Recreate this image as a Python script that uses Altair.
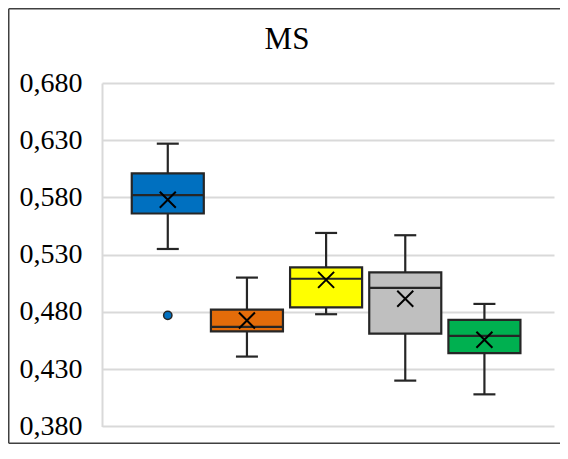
import altair as alt
import pandas as pd

# ---- data ----
title_text = "MS"
series = ["S1", "S2", "S3", "S4", "S5"]
colors = ["#0070C0", "#E46C0A", "#FFFF00", "#BFBFBF", "#00B050"]
whisker_low = [0.535, 0.441, 0.478, 0.420, 0.408]
q1 = [0.566, 0.463, 0.484, 0.461, 0.444]
median = [0.582, 0.467, 0.509, 0.501, 0.459]
q3 = [0.601, 0.482, 0.519, 0.5145, 0.473]
whisker_high = [0.627, 0.510, 0.549, 0.547, 0.487]
mean = [0.578, 0.4725, 0.508, 0.4915, 0.4557]
outlier_series = ["S1"]
outlier_values = [0.477]
y_ticks = [0.38, 0.43, 0.48, 0.53, 0.58, 0.63, 0.68]

df = pd.DataFrame({
    "series": series, "wlo": whisker_low, "q1": q1, "med": median,
    "q3": q3, "whi": whisker_high, "mean": mean,
})
out_df = pd.DataFrame({"series": outlier_series, "value": outlier_values})
title_df = pd.DataFrame({"t": [title_text]})

EDGE = "#262626"
x_enc = alt.X("series:N", sort=series,
              scale=alt.Scale(paddingInner=0.09, paddingOuter=0.4, align=0.47),
              axis=None)
y_scale = alt.Scale(domain=[0.38, 0.68], nice=False, zero=False)
color_scale = alt.Scale(domain=series, range=colors)

base = alt.Chart(df).encode(x=x_enc)

whisker = base.mark_rule(color=EDGE, strokeWidth=2.2, opacity=1).encode(
    y=alt.Y("wlo:Q", scale=y_scale,
            axis=alt.Axis(values=y_ticks, title=None,
                          labelExpr="replace(format(datum.value, '.3f'), '.', ',')",
                          labelFont="Liberation Serif", labelFontSize=28,
                          labelColor="#000000", labelPadding=20,
                          ticks=False, domain=True, domainColor="#D9D9D9",
                          domainWidth=2, grid=True, gridColor="#D9D9D9",
                          gridWidth=2)),
    y2="whi:Q",
)
tick_style = dict(color=EDGE, thickness=2.2, orient="horizontal", opacity=1)
cap_lo = base.mark_tick(size=22, **tick_style).encode(
    y=alt.Y("wlo:Q", scale=y_scale))
cap_hi = base.mark_tick(size=22, **tick_style).encode(
    y=alt.Y("whi:Q", scale=y_scale))
box = base.mark_bar(stroke=EDGE, strokeWidth=2.2, opacity=1).encode(
    y=alt.Y("q1:Q", scale=y_scale), y2="q3:Q",
    color=alt.Color("series:N", scale=color_scale, legend=None),
)
med = base.mark_tick(size=72, **tick_style).encode(
    y=alt.Y("med:Q", scale=y_scale))
mean_pt = base.mark_point(shape="M-1,-1L1,1M-1,1L1,-1", size=256, filled=False,
                          stroke="#000000", strokeWidth=2, opacity=1).encode(
    y=alt.Y("mean:Q", scale=y_scale))
outl = alt.Chart(out_df).mark_point(shape="circle", size=70, filled=True,
                                    stroke=EDGE, strokeWidth=1.5, opacity=1).encode(
    x=x_enc, y=alt.Y("value:Q", scale=y_scale),
    fill=alt.Fill("series:N", scale=color_scale, legend=None),
)

title_mark = alt.Chart(title_df).mark_text(
    font="Liberation Serif", fontSize=31, color="#000000",
    align="center", baseline="alphabetic",
).encode(text="t:N", x=alt.value(185), y=alt.value(-34))

frame_style = dict(color="#404040", strokeWidth=1.5)
frame_left = alt.Chart(title_df).mark_rule(**frame_style).encode(
    x=alt.value(-93.25), y=alt.value(-74.25), y2=alt.value(360.2))
frame_top = alt.Chart(title_df).mark_rule(**frame_style).encode(
    x=alt.value(-93.25), x2=alt.value(458), y=alt.value(-74.25))
frame_bottom = alt.Chart(title_df).mark_rule(**frame_style).encode(
    x=alt.value(-93.25), x2=alt.value(458), y=alt.value(360.2))

chart = alt.layer(
    whisker, cap_lo, cap_hi, box, med, mean_pt, outl, title_mark,
    frame_left, frame_top, frame_bottom,
).properties(
    width=452, height=343.4,
    autosize=alt.AutoSizeParams(type="none"),
    padding={"left": 94, "top": 75, "right": 6, "bottom": 17.6},
).configure_view(stroke=None)

chart.save("out.html", embed_options={"renderer": "svg", "actions": False})
